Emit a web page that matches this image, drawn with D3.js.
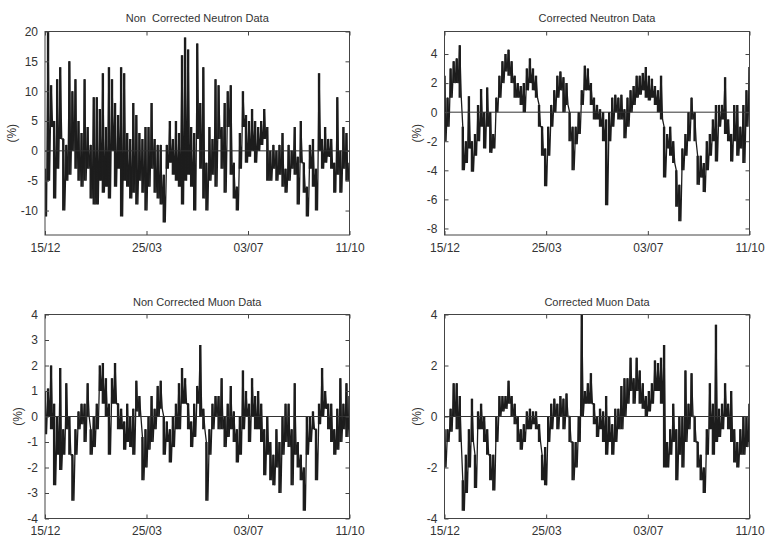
<!DOCTYPE html>
<html>
<head>
<meta charset="utf-8">
<script src="https://cdn.jsdelivr.net/npm/d3@7"></script>
<style>
  body { margin: 0; background: #fff; }
  text { font-family: "Liberation Sans", Arial, sans-serif; fill: #333; }
</style>
</head>
<body>
<div class="chart"></div>
<script>
// Days since 15/12, sampled every 3 days; each sample has a low and a high reading
const step = 3;
const tickDays = [0, 100, 200, 300];
const tickLabels = ['15/12', '25/03', '03/07', '11/10'];

const neutronRawLo = [-11,-5,4,-8,-3,2,-10,-5,-4,0,-3,-5,-6,-5,-3,-8,-9,-9,-5,-7,-6,-8,0,-6,-3,-11,-5,-6,-8,-7,-9,-5,-7,-10,-6,-3,-7,-8,-9,-12,-3,-2,-4,-5,-6,-9,-5,-4,-6,-10,2,-3,-8,-10,-5,-4,-6,2,-3,-7,4,-4,-8,-10,-3,4,-2,-1,0,-2,0,1,2,-5,-5,-3,-5,-4,-6,-7,-5,-3,-4,-9,-2,-7,-11,-3,-6,-10,0,-3,-2,-1,-3,-7,-4,-7,-3,-5,-5];
const neutronRawHi = [-3,20,11,5,12,14,2,1,15,10,12,5,3,12,4,1,9,9,7,13,4,14,12,8,6,14,13,3,2,8,6,3,2,4,4,8,2,1,1,-4,1,5,2,5,3,16,19,17,4,3,18,8,14,-2,4,2,12,11,4,8,10,11,-2,-6,3,10,6,5,7,5,4,5,7,4,0,1,0,1,3,-3,1,0,4,-1,5,-2,-6,1,2,-3,13,2,4,2,2,-2,9,0,4,3,-2];

const neutronCorLo = [-2,-1,1,2,2,1,-4,-3.5,-2.5,-4.1,-3,-2,-1,-2.5,-1,-2.8,-2.5,0,1,2,2.8,2.5,2,1,1,0.5,0,1.5,2,1.5,1,-1,-3,-5.1,-3,-1,0,1,1.5,0,0.5,-2,-4,-2.2,-1.5,0.5,1.5,1.5,0.5,-0.5,-0.5,-1,-2,-6.4,-2,-1,0,-0.5,-0.5,-1.8,-1,0,0.5,1,1.2,1.5,1,0.8,1,0.5,0,-0.5,-4.5,-2.5,-3,-3.5,-6.5,-7.5,-4,-3,-2,-0.5,-2,-5,-4.5,-5.5,-4,-3,-2,-3.4,-1,-0.5,-1.5,-2,-3.4,-2,-3,-2.5,-3.5,-1,0.5];
const neutronCorHi = [2.5,1,3,3.5,3.7,4.6,-1,-2,1.1,-2,-1.5,0.5,1.6,0,1.7,0,-1.5,1,2.5,3.5,4,4.3,3.5,2.5,2,1.8,2,3,3.7,3,2.5,0.5,-1,-2.5,-1,0.5,1.5,2.5,2.8,2.4,2,0,-1,-1,0,1.5,3.2,3,2,1,0.5,0.2,0,-0.5,0,1,1.2,1,1.2,0.2,1,1.5,1.8,2.5,2.5,2.7,3.1,2.5,2.3,1.8,1.5,2.5,-1,-1.5,-1,-2,-4,-5,-2.5,-1.5,0,1,0,-3,-3,-3.5,-2,-1.5,-0.5,0.5,0.5,0.5,2.4,-0.5,-1.5,0.5,0.5,-1,0.5,1.5,3.1];

const muonRawLo = [-0.7,0,-0.5,-2.7,-1.5,-2.1,-1.5,-0.5,-1.5,-3.3,-1.5,-0.5,-0.3,-1,0,-1.5,-1.2,-0.5,1,0.5,0,-1.5,0.5,0.5,-0.5,-0.5,-1.3,-1,-1.2,-1.5,0.2,0,-2.5,-2,-1.3,-1,-0.5,0,0.3,-1.5,-1,-1.8,-1.2,-0.5,-0.5,0.5,0.5,-0.5,-1.2,-0.8,0.5,0,-0.5,-3.3,-1.5,-0.5,0,-0.5,-0.5,-1.2,-0.8,-0.5,-1,-1.8,-1.5,-0.5,0,-1,0,-0.5,-0.5,-1,-2.3,-1.5,-2.5,-2.7,-2,-3,-1.5,-1,-1.2,-2.7,-1.5,-2,-2.5,-3.7,-1.5,-1,-0.5,-2.5,-0.3,0,0.3,-0.5,-1,-1.5,-1.3,-1,-0.5,-0.8,-0.5];
const muonRawHi = [1,1.1,2,0.5,0,1.9,-0.5,1.3,0,-1.5,-0.5,0.2,0.5,0.5,1.3,-0.5,0,0.5,2,2.1,1.5,0.5,1.5,2.1,0.5,0.3,-0.2,0.5,0,0.3,1.4,0.8,-0.8,-0.5,0,0.8,0.3,1.2,1.4,0,-0.2,-0.5,0,0.5,1.3,1.9,1.5,0.5,-0.2,0.5,1.2,2.8,0.3,-1,-0.5,0.5,0.8,0.8,1.5,0,0.5,1.2,0.2,-0.5,0,1.8,1,0.5,1.5,0.8,1,0.5,-0.5,0,-1,-1.5,-0.5,-1,0,0.5,0.5,-0.5,1.3,-1,-1.5,-2,0,0,0.2,-0.5,0.5,1.9,1,0.5,0.5,-0.5,0.3,1.5,0.5,1.3,0.8];

const muonCorLo = [-2,-1,-0.6,0,-0.5,-1,-3.7,-3,-2,-1,-2.8,-0.5,-0.5,-1,-1.5,-2.5,-2.9,-1,0,0.2,0.3,0.5,0,-0.3,-1,-1.3,-1,-0.5,-0.5,-0.3,-0.5,-1,-2.5,-2.7,-1,-0.5,0,-0.5,0,-0.5,0,-1,-2.5,-2,-1,0,0.5,0.5,0.5,-0.3,-0.8,-0.5,-1,-1.5,-1,-1.5,-1,-0.5,-0.5,0,0.5,1,0.5,1,0.5,0.3,0,0.2,0.5,1,1,0.5,-2,-2,-1.5,-1,-2.5,-1.5,-2,-1,-0.5,0,-1,-2,-2.5,-3,-1.5,-0.5,-1.5,-1,-0.8,-0.5,0,-0.5,-1,-1.8,-2,-1.5,-1.5,-1.2,-1];
const muonCorHi = [-0.5,-0.5,0.3,1.3,1.3,0.8,-2.5,-1.5,-0.5,0.7,-1.5,0.2,0.5,0,-0.5,-1.5,-1.5,0,0.8,0.8,0.8,1.4,0.8,0.5,0,-0.5,-0.3,0.2,0.3,0.2,0.2,-0.3,-1.5,-1.2,0,0.5,0.7,0.5,0.8,0.7,0.9,0,-1,-1,0,4,1,1.3,1.7,0.5,0,0.3,0.2,0.8,0,-0.3,0.3,0.3,1.2,1.5,1.5,2.3,1.5,2.3,1.8,1.3,0.8,1,1.3,2.2,2.1,2.3,2.8,-1,-0.5,0.5,-0.5,0,0,1.8,0.5,1.7,0,-1,-1.5,-2,-0.5,1.3,0.5,3.6,0.3,0.5,1.3,0.5,1,-0.5,-1,-0.5,0,0,0.5];

// Panel table built from the arrays above
const panels = [
  {title: 'Non  Corrected Neutron Data', lo: neutronRawLo, hi: neutronRawHi,
   yDomain: [-14.1, 20], yTicks: [-10, -5, 0, 5, 10, 15, 20],
   box: {left: 45, right: 349.5, top: 31.5, bottom: 235}, titleY: 22, labelX: 12},
  {title: 'Corrected Neutron Data', lo: neutronCorLo, hi: neutronCorHi,
   yDomain: [-8.45, 5.55], yTicks: [-8, -6, -4, -2, 0, 2, 4],
   box: {left: 444.5, right: 749.5, top: 31.5, bottom: 235}, titleY: 22, labelX: 417},
  {title: 'Non Corrected Muon Data', lo: muonRawLo, hi: muonRawHi,
   yDomain: [-4, 4], yTicks: [-4, -3, -2, -1, 0, 1, 2, 3, 4],
   box: {left: 45, right: 349.5, top: 314.5, bottom: 518.5}, titleY: 306, labelX: 18},
  {title: 'Corrected Muon Data', lo: muonCorLo, hi: muonCorHi,
   yDomain: [-4, 4], yTicks: [-4, -2, 0, 2, 4],
   box: {left: 444.5, right: 749.5, top: 314.5, bottom: 518.5}, titleY: 306, labelX: 417}
];

const width = 768;
const height = 539;

const svg = d3.select('.chart').append('svg')
    .attr('width', width)
    .attr('height', height)
    .style('display', 'block');

svg.append('rect').attr('width', width).attr('height', height).attr('fill', '#fff');

panels.forEach((p, k) => {
    const b = p.box;
    const xScale = d3.scaleLinear().domain([0, 300]).range([b.left, b.right]);
    const yScale = d3.scaleLinear().domain(p.yDomain).range([b.bottom, b.top]);

    const g = svg.append('g');

    g.append('clipPath').attr('id', `clip${k}`)
      .append('rect')
        .attr('x', b.left).attr('y', b.top)
        .attr('width', b.right - b.left).attr('height', b.bottom - b.top);

    const plot = g.append('g').attr('clip-path', `url(#clip${k})`);

    // vertical range of each sample (the dense hourly band)
    plot.append('g')
        .selectAll('line')
        .data(p.hi)
        .join('line')
            .attr('x1', (h, i) => xScale(i * step))
            .attr('x2', (h, i) => xScale(i * step))
            .attr('y1', h => yScale(h))
            .attr('y2', (h, i) => yScale(p.lo[i]))
            .attr('stroke', '#1e1e1e')
            .attr('stroke-width', 2.4);

    // zig-zag between the low and high reading of each sample
    const points = p.hi.flatMap((h, i) => [
        [i * step, h],
        [Math.min(300, i * step + step / 2), p.lo[i]]
    ]);

    const line = d3.line()
        .x(d => xScale(d[0]))
        .y(d => yScale(d[1]));

    plot.append('path')
        .datum(points)
        .attr('fill', 'none')
        .attr('stroke', '#1c1c1c')
        .attr('stroke-width', 1.3)
        .attr('d', line);

    // zero line
    g.append('line')
        .attr('x1', b.left).attr('x2', b.right)
        .attr('y1', yScale(0)).attr('y2', yScale(0))
        .attr('stroke', '#333');

    // axes, ticks pointing inwards on all four sides
    const axisStyle = sel => {
        sel.select('.domain').remove();
        sel.selectAll('.tick line').attr('stroke', '#444');
        sel.selectAll('.tick text').style('font-size', '12px').attr('fill', '#333');
    };

    g.append('g')
        .attr('transform', `translate(0,${b.bottom})`)
        .call(d3.axisBottom(xScale).tickValues(tickDays)
            .tickFormat((d, i) => tickLabels[i]).tickSizeInner(-4).tickPadding(8))
        .call(axisStyle);
    g.append('g')
        .attr('transform', `translate(0,${b.top})`)
        .call(d3.axisTop(xScale).tickValues(tickDays).tickFormat('').tickSizeInner(-4))
        .call(axisStyle);
    g.append('g')
        .attr('transform', `translate(${b.left},0)`)
        .call(d3.axisLeft(yScale).tickValues(p.yTicks).tickSizeInner(-4).tickPadding(7)
            .tickFormat(d3.format('d')))
        .call(axisStyle);
    g.append('g')
        .attr('transform', `translate(${b.right},0)`)
        .call(d3.axisRight(yScale).tickValues(p.yTicks).tickFormat('').tickSizeInner(-4))
        .call(axisStyle);

    g.selectAll('.tick text').text(function() { return this.textContent.replace('−', '-'); });

    g.append('rect')
        .attr('x', b.left).attr('y', b.top)
        .attr('width', b.right - b.left).attr('height', b.bottom - b.top)
        .attr('fill', 'none')
        .attr('stroke', '#444');

    g.append('text')
        .attr('x', (b.left + b.right) / 2)
        .attr('y', p.titleY)
        .attr('text-anchor', 'middle')
        .style('font-size', '11px')
        .style('white-space', 'pre')
        .text(p.title);

    g.append('text')
        .attr('transform', `translate(${p.labelX},${(b.top + b.bottom) / 2}) rotate(-90)`)
        .attr('text-anchor', 'middle')
        .attr('dy', '0.35em')
        .style('font-size', '12px')
        .text('(%)');
});
</script>
</body>
</html>
